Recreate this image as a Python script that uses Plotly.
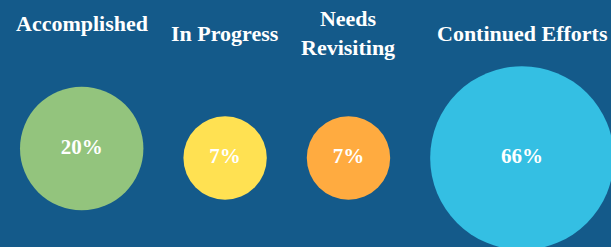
import plotly.graph_objects as go

# ---- data ----
categories = ["Accomplished", "In Progress", "Needs<br>Revisiting", "Continued Efforts"]
values = [20, 7, 7, 66]
colors = ["#93c47d", "#ffe152", "#ffab40", "#34bfe3"]

# ---- layout helpers (computed from data) ----
W, H = 611, 247
BG = "#145a8a"
FONT = "Liberation Serif"

# bubble diameter (px) as a function of the value
diam = [82 * v ** 0.25 - 50 for v in values]

left_pad = 20
gap = 40
xs = []
cursor = left_pad
for d in diam:
    xs.append(cursor + d / 2)
    cursor += d + gap

row_y = 158
lift = [9.5, 0, 0, 0]
ys = [row_y - l for l in lift]
label_offset = 125

fig = go.Figure()
fig.add_trace(go.Scatter(
    x=xs, y=ys, mode="markers+text",
    marker=dict(size=diam, color=colors, line=dict(width=0), opacity=1),
    text=[f"{v}%" for v in values],
    textposition="middle center",
    textfont=dict(family=FONT, size=21, color="white", weight="bold"),
    hoverinfo="skip", showlegend=False, cliponaxis=False,
))

for x, y, lab in zip(xs, ys, categories):
    fig.add_annotation(
        x=x, y=y - label_offset, text=lab, showarrow=False,
        xanchor="center", yanchor="middle",
        font=dict(family=FONT, size=22, color="white", weight="bold"),
    )

fig.update_layout(
    width=W, height=H,
    margin=dict(l=0, r=0, t=0, b=0),
    paper_bgcolor=BG, plot_bgcolor=BG,
    xaxis=dict(range=[0, W], visible=False, fixedrange=True),
    yaxis=dict(range=[H, 0], visible=False, fixedrange=True),
)

fig.write_html(
    "out.html",
    config={"displayModeBar": False},
    post_script="document.body.style.margin='0';document.body.style.background='%s';" % BG,
)
